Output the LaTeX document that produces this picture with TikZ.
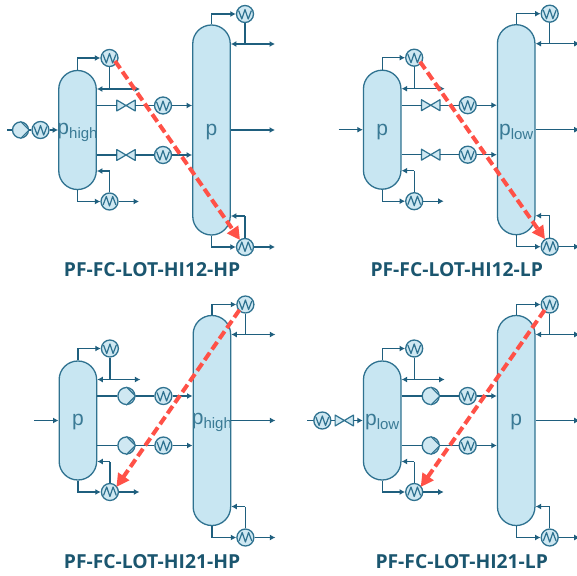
\documentclass[tikz,border=0pt]{standalone}
\usepackage{fontspec}
\setmainfont{Liberation Sans}
\newfontfamily\titlefont{Open Sans}
\usetikzlibrary{arrows.meta}
\definecolor{colfill}{HTML}{C8E6F2}
\definecolor{hxfill}{HTML}{CFE8F2}
\definecolor{edge}{HTML}{2F7290}
\definecolor{pipe}{HTML}{1F5F7E}
\definecolor{ttl}{HTML}{1B566F}
\definecolor{lbl}{HTML}{3A7A95}
\definecolor{redarrow}{HTML}{FF5147}
\tikzset{
  flow/.style={draw=pipe,line width=1.25pt,-{Latex[length=5.5pt,width=6pt]}},
  flowboth/.style={draw=pipe,line width=1.25pt,{Latex[length=5.5pt,width=6pt]}-{Latex[length=5.5pt,width=6pt]}},
  plain/.style={draw=pipe,line width=1.25pt},
  column/.style={draw=edge,fill=colfill,line width=1.3pt,rounded corners=18.7pt,minimum width=37.5pt,inner sep=0pt},
  hx/.style={circle,draw=edge,fill=hxfill,line width=1.3pt,minimum size=17pt,inner sep=0pt},
  zig/.style={draw=edge,line width=1.2pt,line join=round},
  devicebox/.style={inner sep=0pt,minimum width=18pt,minimum height=10.5pt},
  lab/.style={text=lbl,inner sep=0pt},
  heat/.style={draw=redarrow,line width=4pt,dash pattern=on 9pt off 4pt,-{Triangle[length=13pt,width=13pt]}},
  titlenode/.style={text=ttl,inner sep=0pt,font=\titlefont\bfseries\fontsize{19.3}{22}\selectfont},
}
\newcommand{\hxW}[3]{\node[hx] (#1) at (#2,#3) {};
  \draw[zig] ([shift={(-6.4,-3.5)}]#1.center) -- ++(3.2,8.5) -- ++(3.2,-9.5) -- ++(3.2,9.5) -- ++(3.2,-8.5);}
\newcommand{\hxM}[3]{\node[hx] (#1) at (#2,#3) {};
  \draw[zig] ([shift={(-6.4,3.5)}]#1.center) -- ++(3.2,-8.5) -- ++(3.2,9.5) -- ++(3.2,-9.5) -- ++(3.2,8.5);}
\newcommand{\pumpsym}[4]{\node[hx,minimum size=#4] (#1) at (#2,#3) {};
  \draw[zig,fill=hxfill] (#1.north) -- (#1.east) -- (#1.south);}
\newcommand{\valvedev}[3]{\node[devicebox] (#1) at (#2,#3) {};
  \draw[zig,fill=hxfill] (#1.south west) -- (#1.north east) -- (#1.south east) -- (#1.north west) -- cycle;}
\newcommand{\pumpdev}[3]{\pumpsym{#1}{#2}{#3}{17pt}}
\newcommand{\feedplain}[1]{\coordinate (#1F) at (34,130);
  \draw[flow] (#1F) -- (#1L.west |- #1F);}
\newcommand{\feedpump}[1]{\coordinate (#1F) at (7,130);
  \pumpsym{#1P}{20.5}{130}{16pt}\hxW{#1Q}{40.5}{130}
  \draw[plain] (#1F) -- (#1P); \draw[plain] (#1P) -- (#1Q);
  \draw[flow] (#1Q) -- (#1L.west |- #1Q);}
\newcommand{\feedvalve}[1]{\coordinate (#1F) at (2.5,130);
  \hxW{#1Q}{17.6}{130}\valvedev{#1P}{39.6}{130}
  \draw[plain] (#1F) -- (#1Q); \draw[plain] (#1Q) -- (#1P);
  \draw[flow] (#1P) -- (#1L.west |- #1P);}
\newcommand{\subs}[1]{\raisebox{-4pt}{\fontsize{15}{15}\selectfont #1}}
% id dx dy Llabel Rlabel device feed
\newcommand{\panel}[9]{%
\begin{scope}[shift={(#2,#3)}]
  \node[column,minimum height=119pt] (#1L) at (77.5,130) {};
  \node[column,minimum height=210pt] (#1R) at (211.5,130) {};
  \node[lab,font=\fontsize{21}{21}\selectfont] (#1A) at (77.5,132) {#4};
  \node[lab,font=\fontsize{21}{21}\selectfont] (#1B) at (211.5,132) {#5};
  \hxW{#1a}{109.5}{58}
  \hxM{#1b}{109.5}{201.5}
  \hxW{#1c}{245}{14}
  \hxM{#1d}{245}{247}
  \hxW{#1e}{163}{105.5}
  \hxW{#1f}{163}{155}
  #6{#1g}{126}{105.5}
  #6{#1h}{126}{155}
  \coordinate (#1i) at (140,89);
  \coordinate (#1j) at (139,201.5);
  \coordinate (#1k) at (109.5,171);
  \coordinate (#1l) at (275,44);
  \coordinate (#1m) at (275,130);
  \coordinate (#1n) at (275,247);
  \coordinate (#1o) at (245,216);
  \draw[flow] (#1L.north) |- (#1a);
  \draw[plain] (#1a) -- (#1a |- #1i);
  \draw[flowboth] (#1L.east |- #1i) -- (#1i);
  \draw[plain] (#1L.east |- #1g) -- (#1g);
  \draw[plain] (#1g) -- (#1e);
  \draw[flow] (#1e) -- (#1R.west |- #1e);
  \draw[plain] (#1L.east |- #1h) -- (#1h);
  \draw[plain] (#1h) -- (#1f);
  \draw[flow] (#1f) -- (#1R.west |- #1f);
  \draw[flow] (#1L.south) |- (#1b);
  \draw[flow] (#1b) -- (#1j);
  \draw[plain] (#1b) -- (#1k);
  \draw[flow] (#1k) -- (#1L.east |- #1k);
  \draw[flow] (#1R.north) |- (#1c);
  \draw[plain] (#1c) -- (#1c |- #1l);
  \draw[flowboth] (#1R.east |- #1l) -- (#1l);
  \draw[flow] (#1R.east |- #1m) -- (#1m);
  \draw[flow] (#1R.south) |- (#1d);
  \draw[flow] (#1d) -- (#1n);
  \draw[plain] (#1d) -- (#1o);
  \draw[flow] (#1o) -- (#1R.east |- #1o);
  #7{#1}
  \coordinate (#1s) at #8;
  \coordinate (#1t) at #9;
  \draw[heat] (#1s) -- (#1t);
\end{scope}}
\begin{document}
\begin{tikzpicture}[x=1pt,y=-1pt]
\useasboundingbox (0,0) rectangle (577,575);
\fill[white] (0,0) rectangle (577,575);
\panel{A}{0}{0}{p\subs{high}}{p}{\valvedev}{\feedpump}{(115,61)}{(240,240)}
\panel{B}{304.7}{-0.3}{p}{p\subs{low}}{\valvedev}{\feedplain}{(115.3,62)}{(240.3,239.5)}
\panel{C}{0.4}{290.5}{p}{p\subs{high}}{\pumpdev}{\feedplain}{(239,19.5)}{(116,196.5)}
\panel{D}{304.7}{290.5}{p\subs{low}}{p}{\pumpdev}{\feedvalve}{(240,19.5)}{(116,196.5)}
\node[titlenode] (T1) at (152,270) {PF-FC-LOT-HI12-HP};
\node[titlenode] (T2) at (456.7,270) {PF-FC-LOT-HI12-LP};
\node[titlenode] (T3) at (152,562) {PF-FC-LOT-HI21-HP};
\node[titlenode] (T4) at (461.7,562) {PF-FC-LOT-HI21-LP};
\end{tikzpicture}
\end{document}
